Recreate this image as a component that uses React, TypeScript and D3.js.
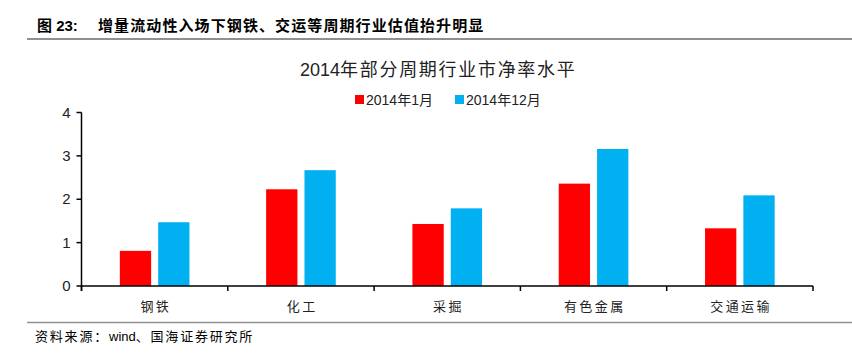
import React from 'react';
import { scaleBand, scaleLinear } from 'd3';

const categories = ['钢铁', '化工', '采掘', '有色金属', '交通运输'];
const seriesNames = ['2014年1月', '2014年12月'];
const jan2014 = [0.81, 2.23, 1.43, 2.36, 1.33];
const dec2014 = [1.47, 2.67, 1.79, 3.16, 2.09];
const yTicks = [0, 1, 2, 3, 4];
const colors = ['#FF0000', '#00B0F0'];

const FONT = '"Liberation Sans", Arial, "Noto Sans CJK SC", sans-serif';
const CJK = '"Noto Sans CJK SC", "Liberation Sans", sans-serif';

const App = () => {
  const width = 852;
  const height = 360;
  const left = 81.5;
  const right = 813;
  const top = 112.5;
  const bottom = 286;

  const x0 = scaleBand<string>().domain(categories).range([left, right]).padding(0);
  const x1 = scaleBand<string>()
    .domain(seriesNames)
    .range([0, x0.bandwidth()])
    .paddingInner(0.184)
    .paddingOuter(1.0);
  const y = scaleLinear().domain([0, 4]).range([bottom, top]);

  const values = [jan2014, dec2014];
  const boundaries = categories.map(c => x0(c) as number).concat([right]);

  return (
    <svg
      width={width}
      height={height}
      style={{ position: 'absolute', left: 0, top: 0, background: '#fff' }}
    >
      {/* header */}
      <text x={37} y={31} fontFamily={FONT} fontSize={15} fontWeight="bold" fill="#000">
        图 23:
      </text>
      <text
        x={98}
        y={31}
        fontFamily={CJK}
        fontSize={15}
        fontWeight="bold"
        letterSpacing={1.1}
        fill="#000"
      >
        增量流动性入场下钢铁、交运等周期行业估值抬升明显
      </text>
      <line x1={27} x2={852} y1={39} y2={39} stroke="#909090" strokeWidth={2} />

      {/* chart title */}
      <text x={300} y={76} fontFamily={FONT} fontSize={18} fill="#222">
        <tspan>2014</tspan>
        <tspan fontFamily={CJK} letterSpacing={1.7}>年部分周期行业市净率水平</tspan>
      </text>

      {/* legend */}
      {seriesNames.map((s, i) => {
        const lx = i === 0 ? 355 : 455;
        return (
          <g key={s}>
            <rect x={lx} y={95} width={9} height={9} fill={colors[i]} />
            <text x={lx + 11} y={105} fontFamily={FONT} fontSize={14} fill="#222">
              {s}
            </text>
          </g>
        );
      })}

      {/* bars */}
      {categories.map((c, ci) => (
        <g key={c} transform={`translate(${x0(c)},0)`}>
          {seriesNames.map((s, si) => (
            <rect
              key={s}
              x={x1(s)}
              y={y(values[si][ci])}
              width={x1.bandwidth()}
              height={bottom - y(values[si][ci])}
              fill={colors[si]}
            />
          ))}
        </g>
      ))}

      {/* y axis */}
      <line x1={left} x2={left} y1={top} y2={bottom + 5} stroke="#000" strokeWidth={1.5} />
      {yTicks.map(t => (
        <g key={t}>
          <line x1={left - 5} x2={left} y1={y(t)} y2={y(t)} stroke="#000" strokeWidth={1.5} />
          <text
            x={left - 11}
            y={y(t) + 5}
            textAnchor="end"
            fontFamily={FONT}
            fontSize={15}
            fill="#222"
          >
            {t}
          </text>
        </g>
      ))}

      {/* x axis */}
      <line x1={left} x2={right} y1={bottom} y2={bottom} stroke="#000" strokeWidth={1.5} />
      {boundaries.map((b, i) => (
        <line key={i} x1={b} x2={b} y1={bottom} y2={bottom + 5} stroke="#000" strokeWidth={1.5} />
      ))}
      {categories.map(c => (
        <text
          key={c}
          x={(x0(c) as number) + x0.bandwidth() / 2 + 1.2}
          y={311}
          textAnchor="middle"
          fontFamily={CJK}
          fontSize={13}
          letterSpacing={2.4}
          fill="#222"
        >
          {c}
        </text>
      ))}

      {/* source */}
      <line x1={27} x2={852} y1={322.5} y2={322.5} stroke="#909090" strokeWidth={1.5} />
      <text x={35} y={341} fontFamily={FONT} fontSize={13} fill="#000">
        <tspan fontFamily={CJK} letterSpacing={1.8}>资料来源：</tspan>
        <tspan>wind</tspan>
        <tspan fontFamily={CJK} letterSpacing={1.8}>、国海证券研究所</tspan>
      </text>
    </svg>
  );
};

export default App;
